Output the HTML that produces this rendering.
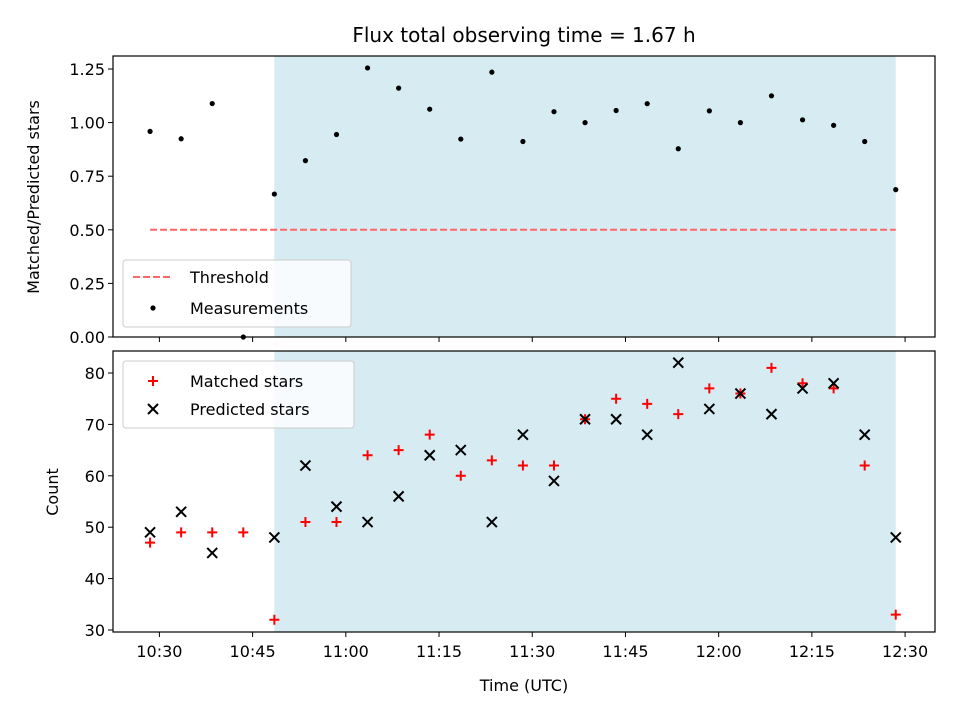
<!DOCTYPE html>
<html><head><meta charset="utf-8"><style>
body{margin:0;background:#fff}
svg text{font-family:"DejaVu Sans","Liberation Sans",sans-serif;fill:#000}
</style></head><body>
<svg id="c" width="960" height="720" viewBox="0 0 960 720"></svg>
<script>
const times = ["10:28:30","10:33:30","10:38:30","10:43:30","10:48:30","10:53:30","10:58:30","11:03:30","11:08:30","11:13:30","11:18:30","11:23:30","11:28:30","11:33:30","11:38:30","11:43:30","11:48:30","11:53:30","11:58:30","12:03:30","12:08:30","12:13:30","12:18:30","12:23:30","12:28:30"];
const matched = [47,49,49,49,32,51,51,64,65,68,60,63,62,62,71,75,74,72,77,76,81,78,77,62,33];
const predicted = [49,53,45,null,48,62,54,51,56,64,65,51,68,59,71,71,68,82,73,76,72,77,78,68,48];
const xTickLabels = ["10:30","10:45","11:00","11:15","11:30","11:45","12:00","12:15","12:30"];
const topTicks = [0,0.25,0.5,0.75,1.0,1.25];
const botTicks = [30,40,50,60,70,80];
const threshold = 0.5;
const shadeStart = "10:48:30", shadeEnd = "12:28:30";

const NS="http://www.w3.org/2000/svg";
const svg=document.getElementById('c');
function mk(t,a,p){const e=document.createElementNS(NS,t);for(const k in a)e.setAttribute(k,a[k]);(p||svg).appendChild(e);return e;}
function mins(s){const p=s.split(':').map(Number);return (p[0]-10)*60+p[1]+(p[2]||0)/60-30;}
const X=m=>159.4+6.214*m;
const L=113,R=935;
const T1=56,B1=337, T2=351,B2=632;
const Y1=v=>337-v*214.4;
const Y2=v=>630-(v-30)*5.14;

// title
let t=mk('text',{x:524,y:42,'font-size':20,'text-anchor':'middle'});t.textContent='Flux total observing time = 1.67 h';


function panel(top,bot,name){
  const s=mk('rect',{x:X(mins(shadeStart)),y:top,width:X(mins(shadeEnd))-X(mins(shadeStart)),height:bot-top,fill:'#add8e6','fill-opacity':0.5});
  
}
panel(T1,B1,'top');panel(T2,B2,'bottom');

// threshold
const th=mk('line',{x1:X(mins(times[0])),x2:X(mins(times[times.length-1])),y1:Y1(threshold),y2:Y1(threshold),stroke:'#ff6666','stroke-width':2,'stroke-dasharray':'7,3'});


// measurements
times.forEach((tm,i)=>{
  const r=predicted[i]?matched[i]/predicted[i]:0;
  const c=mk('circle',{cx:X(mins(tm)),cy:Y1(r),r:2.6,fill:'#000'});
  
});
// matched / predicted
times.forEach((tm,i)=>{
  const x=X(mins(tm));
  if(matched[i]!=null){const y=Y2(matched[i]);
    const g=mk('path',{d:`M${x-5},${y}H${x+5}M${x},${y-5}V${y+5}`,stroke:'#f00','stroke-width':2});
    }
  if(predicted[i]!=null){const y=Y2(predicted[i]);
    const g=mk('path',{d:`M${x-5},${y-5}L${x+5},${y+5}M${x-5},${y+5}L${x+5},${y-5}`,stroke:'#000','stroke-width':2});
    }
});

// frames
[[T1,B1,'top'],[T2,B2,'bottom']].forEach(([a,b,n])=>{
  const f=mk('rect',{x:L,y:a,width:R-L,height:b-a,fill:'none',stroke:'#000','stroke-width':1.2});
  
});
// x ticks
xTickLabels.forEach(lb=>{
  const x=X(mins(lb));
  mk('line',{x1:x,x2:x,y1:B1,y2:B1+5,stroke:'#000'});
  mk('line',{x1:x,x2:x,y1:B2,y2:B2+5,stroke:'#000'});
  const tx=mk('text',{x:x,y:B2+25,'font-size':16,'text-anchor':'middle'});tx.textContent=lb;
  
});
topTicks.forEach(v=>{
  const y=Y1(v);mk('line',{x1:L-5,x2:L,y1:y,y2:y,stroke:'#000'});
  const tx=mk('text',{x:L-8,y:y+6,'font-size':16,'text-anchor':'end'});tx.textContent=v.toFixed(2);
  
});
botTicks.forEach(v=>{
  const y=Y2(v);mk('line',{x1:L-5,x2:L,y1:y,y2:y,stroke:'#000'});
  const tx=mk('text',{x:L-8,y:y+6,'font-size':16,'text-anchor':'end'});tx.textContent=v;
  
});
// axis titles
t=mk('text',{x:524,y:691,'font-size':16,'text-anchor':'middle'});t.textContent='Time (UTC)';

t=mk('text',{x:0,y:0,'font-size':16,'text-anchor':'middle',transform:'translate(39,197) rotate(-90)'});t.textContent='Matched/Predicted stars';

t=mk('text',{x:0,y:0,'font-size':16,'text-anchor':'middle',transform:'translate(58,492) rotate(-90)'});t.textContent='Count';


// legends
let lg=mk('g',{});
mk('rect',{x:123,y:260,width:228,height:67,rx:3,fill:'#fff','fill-opacity':0.8,stroke:'#ccc'},lg);
mk('line',{x1:133,x2:173,y1:277,y2:277,stroke:'#ff6666','stroke-width':2,'stroke-dasharray':'7,3'},lg);
t=mk('text',{x:190,y:283,'font-size':16},lg);t.textContent='Threshold';
mk('circle',{cx:153,cy:308,r:2.6,fill:'#000'},lg);
t=mk('text',{x:190,y:314,'font-size':16},lg);t.textContent='Measurements';

lg=mk('g',{});
mk('rect',{x:123,y:361,width:231,height:67,rx:3,fill:'#fff','fill-opacity':0.8,stroke:'#ccc'},lg);
mk('path',{d:'M148,381H158M153,376V386',stroke:'#f00','stroke-width':2},lg);
t=mk('text',{x:190,y:387,'font-size':16},lg);t.textContent='Matched stars';
mk('path',{d:'M148,404L158,414M148,414L158,404',stroke:'#000','stroke-width':2},lg);
t=mk('text',{x:190,y:415,'font-size':16},lg);t.textContent='Predicted stars';
</script>
</body></html>
